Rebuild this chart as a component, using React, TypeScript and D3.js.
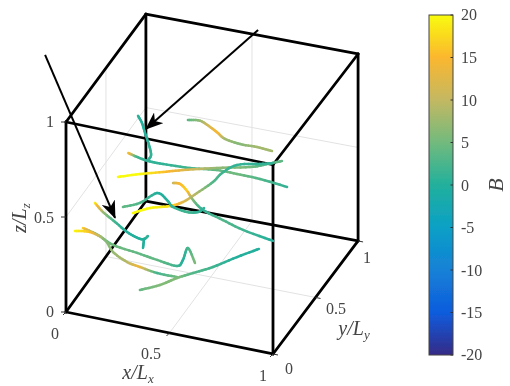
import * as d3 from "d3";

// filaments: [u, v, B], u and v measured in the screen plane of the cube's front face
const filamentA = [[.589,1.011,3],[.647,1.007,7],[.696,.974,12],[.734,.942,15],[.768,.911,8],[.841,.884,6],[.923,.868,8],[.995,.847,8]];
const filamentB = [[.348,1.032,1],[.367,.995,0],[.382,.942,0],[.401,.879,1],[.411,.826,1],[.396,.8,1]];
const filamentC = [[.3,.837,18],[.343,.816,2],[.396,.795,1],[.469,.779,1],[.599,.758,2],[.729,.747,4],[.826,.726,5],[.937,.7,3],[1.068,.658,1]];
const filamentD = [[.251,.711,20],[.357,.726,20],[.469,.737,16],[.565,.747,13],[.729,.758,7],[.889,.763,5],[.952,.774,3],[1.043,.795,4]];
const filamentE = [[.324,.521,20],[.406,.547,20],[.502,.558,18],[.565,.579,13],[.633,.626,9],[.71,.684,3],[.754,.732,2],[.826,.774,1],[.937,.779,1],[1,.784,1]];
const filamentF = [[.517,.679,10],[.551,.674,15],[.585,.637,17],[.614,.589,6],[.662,.537,1],[.758,.484,3],[.855,.432,2],[1,.374,0]];
const filamentG = [[.275,.553,4],[.357,.574,3],[.44,.626,0],[.488,.589,0],[.517,.553,1],[.585,.526,2],[.638,.526,1],[.667,.547,1]];
const filamentH = [[.14,.574,20],[.179,.526,8],[.237,.474,2],[.295,.421,0],[.348,.389,0],[.377,.384,0],[.396,.4,1]];
const filamentHspur = [[.377,.384,0],[.372,.337,0]];
const filamentI = [[.082,.442,18],[.155,.405,2],[.227,.353,5],[.343,.311,4],[.44,.274,4],[.536,.242,2],[.565,.274,0],[.589,.337,2],[.623,.258,6]];
const filamentJ = [[.043,.426,20],[.116,.421,16],[.188,.379,6],[.227,.316,7],[.295,.263,9],[.357,.237,14],[.44,.205,2],[.536,.184,5]];
const filamentK = [[.357,.116,4],[.454,.142,6],[.536,.179,6],[.614,.205,3],[.71,.237,2],[.826,.289,0],[.932,.332,0]];
const filaments = [filamentA, filamentB, filamentC, filamentD, filamentE, filamentF, filamentG, filamentH, filamentHspur, filamentI, filamentJ, filamentK];

const arrows = [[[-.101,1.353],[.237,.495]],[[.928,1.484],[.386,.963]]];

// cube corners, indexed by x + 2y + 4z
const corners = [[0,0],[1,-.221],[.386,.584],[1.411,.374],[0,1],[1,.775],[.386,1.568],[1.411,1.358]];
const edges = [[0,1],[1,3],[3,2],[2,0],[4,5],[5,7],[7,6],[6,4],[0,4],[1,5],[2,6],[3,7]];
const cubeTicks = [0, 0.5, 1];

const barTicks = [-20,-15,-10,-5,0,5,10,15,20];
const barColors = ["#352a87","#0f5cdd","#1481d6","#0ba0c6","#22b09c","#72ba7d","#c4b862","#fbb72f","#f9fb0e"];

const sx = d3.scaleLinear().domain([0,1]).range([66,273]);
const sy = d3.scaleLinear().domain([0,1]).range([312,122]);
const color = d3.scaleLinear<string>().domain(barTicks).range(barColors).clamp(true);
const barY = d3.scaleLinear().domain([-20,20]).range([355,15]);
const barLeft = 429, barRight = 453;

const project = (x, y, z) => {
  const w = (i) => (i & 1 ? x : 1 - x) * (i & 2 ? y : 1 - y) * (i & 4 ? z : 1 - z);
  const u = d3.sum(corners, (c, i) => c[0] * w(i));
  const v = d3.sum(corners, (c, i) => c[1] * w(i));
  return [sx(u), sy(v)];
};

const gridLines = [
  [[.5,0,0],[.5,1,0]], [[.5,1,0],[.5,1,1]],
  [[0,.5,0],[1,.5,0]], [[0,.5,0],[0,.5,1]],
  [[0,0,.5],[0,1,.5]], [[0,1,.5],[1,1,.5]],
];

// catmull-rom pieces so B can change colour along the curve
const pieces = (pts) => {
  const out = [];
  for (let i = 0; i < pts.length - 1; i++) {
    const p0 = pts[Math.max(i - 1, 0)], p1 = pts[i], p2 = pts[i + 1], p3 = pts[Math.min(i + 2, pts.length - 1)];
    let prev = [sx(p1[0]), sy(p1[1])];
    for (let k = 1; k <= 6; k++) {
      const t = k / 6;
      const cr = (a, b, c, d) => 0.5 * (2 * b + (c - a) * t + (2 * a - 5 * b + 4 * c - d) * t * t + (3 * b - a - 3 * c + d) * t * t * t);
      const next = [sx(cr(p0[0], p1[0], p2[0], p3[0])), sy(cr(p0[1], p1[1], p2[1], p3[1]))];
      out.push({ a: prev, b: next, value: p1[2] + (p2[2] - p1[2]) * (t - 1 / 12) });
      prev = next;
    }
  }
  return out;
};

const serif = "'Liberation Serif', serif";
const ink = "#444";

const Label = ({ x, y, children, anchor = "middle", size = 16 }: any) => (
  <text x={x} y={y} textAnchor={anchor} dominantBaseline="central" fontFamily={serif} fontSize={size} fill={ink}>{children}</text>
);

const AxisName = ({ transform, name, sub }: any) => (
  <text transform={transform} textAnchor="middle" fontFamily={serif} fontSize={20} fontStyle="italic" fill={ink}>
    {name}/L<tspan fontSize={13} dy={4}>{sub}</tspan>
  </text>
);

export default function App() {
  const line = d3.line();
  return (
    <svg width={510} height={386} style={{ position: "absolute", left: 0, top: 0 }}>
      <defs>
        <filter id="soft" x="-5%" y="-5%" width="110%" height="110%"><feGaussianBlur stdDeviation="0.45" /></filter>
        <marker id="head" viewBox="0 0 18 14" refX="17" refY="7" markerWidth="18" markerHeight="14" markerUnits="userSpaceOnUse" orient="auto">
          <path d="M0,0 L18,7 L0,14 L5,7 Z" fill="#000" />
        </marker>
        <linearGradient id="bar" x1="0" y1="1" x2="0" y2="0">
          {barTicks.map((t, i) => (
            <stop key={t} offset={i / (barTicks.length - 1)} stopColor={barColors[i]} />
          ))}
        </linearGradient>
      </defs>
      <g filter="url(#soft)">
        {gridLines.map((g, i) => (
          <path key={i} d={line(g.map((p) => project(p[0], p[1], p[2])))} fill="none" stroke="#e2e2e2" strokeWidth={1} />
        ))}
        {edges.map((e, i) => (
          <path key={i} d={line([corners[e[0]], corners[e[1]]].map((c) => [sx(c[0]), sy(c[1])]))} stroke="#000" strokeWidth={2.8} strokeLinecap="round" fill="none" />
        ))}
        {cubeTicks.map((t) => (
          <g key={t} stroke="#333" strokeWidth={1}>
            <path d={line([project(0, 0, t), [project(0, 0, t)[0] - 5, project(0, 0, t)[1]]])} />
            <path d={line([project(t, 0, 0), [project(t, 0, 0)[0] - 3, project(t, 0, 0)[1] + 3]])} />
            <path d={line([project(1, t, 0), [project(1, t, 0)[0] + 5, project(1, t, 0)[1] + 1]])} />
          </g>
        ))}
        {filaments.map((f, i) => (
          <g key={i}>
            {pieces(f).map((s, j) => (
              <path key={j} d={line([s.a, s.b])} stroke={color(s.value)} strokeWidth={2.5} strokeLinecap="round" fill="none" />
            ))}
          </g>
        ))}
        {arrows.map((a, i) => (
          <path key={i} d={line(a.map((p) => [sx(p[0]), sy(p[1])]))} stroke="#000" strokeWidth={2} fill="none" markerEnd="url(#head)" />
        ))}
        <rect x={barLeft} y={barY(20)} width={barRight - barLeft} height={barY(-20) - barY(20)} fill="url(#bar)" stroke="#444" strokeWidth={1} />
        {barTicks.map((t) => (
          <path key={t} d={line([[barRight - 2.5, barY(t)], [barRight, barY(t)]])} stroke="#333" strokeWidth={1} />
        ))}
        {barTicks.map((t) => (
          <Label key={t} x={461} y={t === 20 ? 14 : t === -20 ? 354 : barY(t)} anchor="start">{t}</Label>
        ))}
        <Label x={50} y={121}>1</Label>
        <Label x={44} y={217}>0.5</Label>
        <Label x={50} y={311}>0</Label>
        <Label x={55} y={333}>0</Label>
        <Label x={151} y={353}>0.5</Label>
        <Label x={263} y={375}>1</Label>
        <Label x={289} y={368}>0</Label>
        <Label x={336} y={308}>0.5</Label>
        <Label x={367} y={257}>1</Label>
        <AxisName transform="translate(138,379)" name="x" sub="x" />
        <AxisName transform="translate(354,335)" name="y" sub="y" />
        <AxisName transform="translate(26,218) rotate(-90)" name="z" sub="z" />
        <text transform="translate(503,185) rotate(-90)" textAnchor="middle" fontFamily={serif} fontSize={22} fontStyle="italic" fill={ink}>B</text>
      </g>
    </svg>
  );
}
